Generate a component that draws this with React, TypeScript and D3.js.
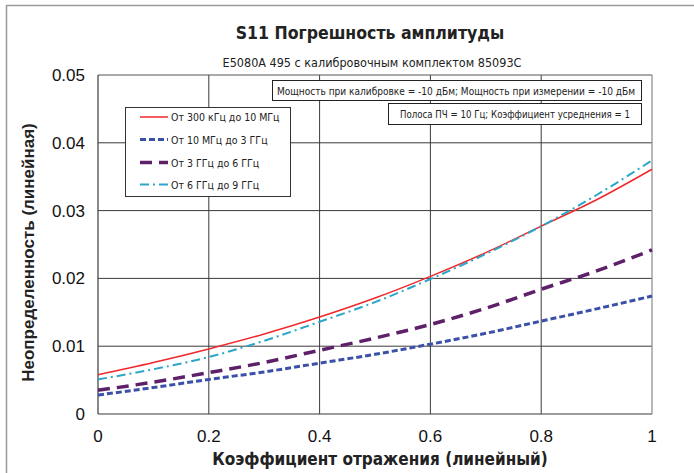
import React from "react";
import * as d3 from "d3";

// reflection coefficient (linear) and uncertainty for each band
const reflection = [0, 0.1, 0.2, 0.3, 0.4, 0.5, 0.6, 0.7, 0.8, 0.9, 1.0];
const band300k = [0.0058, 0.0076, 0.0096, 0.0118, 0.0143, 0.0171, 0.0203, 0.0238, 0.0277, 0.0316, 0.0361];
const band10M = [0.0028, 0.0039, 0.0051, 0.0062, 0.0075, 0.0088, 0.0103, 0.0119, 0.0137, 0.0155, 0.0174];
const band3G = [0.0035, 0.0047, 0.0061, 0.0076, 0.0094, 0.0112, 0.0132, 0.0156, 0.0184, 0.0211, 0.0242];
const band6G = [0.0051, 0.0066, 0.0084, 0.0108, 0.0136, 0.0165, 0.0199, 0.0236, 0.0277, 0.0323, 0.0374];

const seriesNames = [
  "От 300 кГц до 10 МГц",
  "От 10 МГц до 3 ГГц",
  "От 3 ГГц до 6 ГГц",
  "От 6 ГГц до 9 ГГц",
];

const xTicks = [0, 0.2, 0.4, 0.6, 0.8, 1];
const yTicks = [0, 0.01, 0.02, 0.03, 0.04, 0.05];

const styles = [
  { color: "#f0282d", width: 1.5, dash: "" },
  { color: "#3b50a8", width: 3, dash: "6,3" },
  { color: "#5e2069", width: 3.5, dash: "12,7" },
  { color: "#2ba6c8", width: 2, dash: "9,4,2,4" },
];

const WIDTH = 694;
const HEIGHT = 473;
const PLOT = { left: 98, right: 652, top: 75, bottom: 414 };

const condensed = "'Liberation Sans Narrow', 'DejaVu Sans Condensed', 'Roboto', sans-serif";
const arial = "'Liberation Sans', Arial, sans-serif";

export default function App() {
  const x = d3.scaleLinear().domain([0, 1]).range([PLOT.left, PLOT.right]);
  const y = d3.scaleLinear().domain([0, 0.05]).range([PLOT.bottom, PLOT.top]);

  const line = d3
    .line<number>()
    .x((_, i) => x(reflection[i]))
    .y((d) => y(d))
    .curve(d3.curveMonotoneX);

  const allSeries = [band300k, band10M, band3G, band6G];

  // legend position
  const legX = 125;
  const legY = 107;
  const rowY = [117, 139.5, 162.5, 184.5];

  return (
    <svg
      width={WIDTH}
      height={HEIGHT}
      style={{ position: "absolute", left: 0, top: 0, background: "#fff" }}
    >
      {/* outer frame */}
      <line x1={6} x2={WIDTH} y1={5.5} y2={5.5} stroke="#9a9a9a" strokeWidth={1.5} />
      <line x1={6.5} x2={6.5} y1={5} y2={HEIGHT} stroke="#9a9a9a" strokeWidth={1.5} />

      <text x={370} y={39} textAnchor="middle" fontFamily={condensed} fontWeight="bold" fontSize={17.5} fill="#222">
        S11 Погрешность амплитуды
      </text>
      <text x={372} y={67} textAnchor="middle" fontFamily={condensed} fontSize={12.5} fill="#222">
        E5080A 495 с калибровочным комплектом 85093C
      </text>

      {/* grid */}
      {xTicks.slice(1, -1).map((t) => (
        <line key={"gx" + t} x1={x(t)} x2={x(t)} y1={PLOT.top} y2={PLOT.bottom} stroke="#3a3a3a" strokeWidth={1} />
      ))}
      {yTicks.slice(1, -1).map((t) => (
        <line key={"gy" + t} x1={PLOT.left} x2={PLOT.right} y1={y(t)} y2={y(t)} stroke="#3a3a3a" strokeWidth={1} />
      ))}
      <line x1={PLOT.left} x2={PLOT.right} y1={PLOT.top} y2={PLOT.top} stroke="#555" strokeWidth={1} />
      <line x1={PLOT.left} x2={PLOT.left} y1={PLOT.top} y2={PLOT.bottom} stroke="#3a3a3a" strokeWidth={1.2} />
      <line x1={PLOT.left} x2={PLOT.right} y1={PLOT.bottom} y2={PLOT.bottom} stroke="#3a3a3a" strokeWidth={1.2} />
      <line x1={PLOT.right} x2={PLOT.right} y1={PLOT.top} y2={PLOT.bottom} stroke="#8a8a8a" strokeWidth={1.2} />

      {/* tick labels */}
      {yTicks.map((t) => (
        <text key={"ty" + t} x={85} y={y(t) + 6} textAnchor="end" fontFamily={arial} fontSize={17} fill="#111">
          {t === 0 ? "0" : d3.format(".2f")(t)}
        </text>
      ))}
      {xTicks.map((t) => (
        <text key={"tx" + t} x={x(t)} y={442} textAnchor="middle" fontFamily={arial} fontSize={17} fill="#111">
          {t === 0 || t === 1 ? String(t) : d3.format(".1f")(t)}
        </text>
      ))}

      {/* axis titles */}
      <text x={380} y={465} textAnchor="middle" fontFamily={condensed} fontWeight="bold" fontSize={17} fill="#222">
        Коэффициент отражения (линейный)
      </text>
      <text
        transform={`translate(34, ${(PLOT.top + PLOT.bottom) / 2 + 8}) rotate(-90)`}
        textAnchor="middle"
        fontFamily={arial}
        fontWeight="bold"
        fontSize={17}
        fill="#222"
      >
        Неопределенность (линейная)
      </text>

      {/* curves */}
      {allSeries.map((s, i) => (
        <path
          key={"s" + i}
          d={line(s) ?? ""}
          fill="none"
          stroke={styles[i].color}
          strokeWidth={styles[i].width}
          strokeDasharray={styles[i].dash}
        />
      ))}

      {/* info boxes */}
      <rect x={272.5} y={80.5} width={369} height={20} fill="#fff" stroke="#222" strokeWidth={1} />
      <text
        x={277}
        y={94.5}
        fontFamily={condensed}
        fontSize={10.5}
        fill="#222"
        textLength={358}
        lengthAdjust="spacingAndGlyphs"
      >
        Мощность при калибровке = -10 дБм; Мощность при измерении = -10 дБм
      </text>
      <rect x={388.5} y={103.5} width={253} height={21} fill="#fff" stroke="#222" strokeWidth={1} />
      <text
        x={400}
        y={118}
        fontFamily={condensed}
        fontSize={10.5}
        fill="#222"
        textLength={230}
        lengthAdjust="spacingAndGlyphs"
      >
        Полоса ПЧ = 10 Гц; Коэффициент усреднения = 1
      </text>

      {/* legend */}
      <rect x={legX + 0.5} y={legY + 0.5} width={165} height={89} fill="#fff" stroke="#333" strokeWidth={1} />
      {seriesNames.map((name, i) => (
        <g key={name}>
          <line
            x1={140}
            x2={168}
            y1={rowY[i]}
            y2={rowY[i]}
            stroke={styles[i].color}
            strokeWidth={styles[i].width}
            strokeDasharray={styles[i].dash}
          />
          <text x={171} y={rowY[i] + 4} fontFamily={condensed} fontSize={10.5} fill="#222">
            {name}
          </text>
        </g>
      ))}
    </svg>
  );
}
